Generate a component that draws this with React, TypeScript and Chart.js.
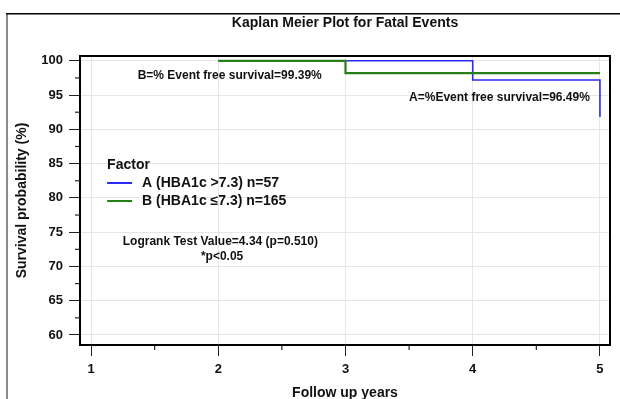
import React, { useEffect, useRef } from "react";
import { Chart, registerables } from "chart.js";

Chart.register(...registerables);

// ---- data ----
const xTickValues = [1, 2, 3, 4, 5];
const xMinorTickValues = [1.5, 2.5, 3.5, 4.5];
const yTickValues = [60, 65, 70, 75, 80, 85, 90, 95, 100];
const yMinorTickValues = [62.5, 67.5, 72.5, 77.5, 82.5, 87.5, 92.5, 97.5];

const groupBTimes = [2, 3, 5];
const groupBSurvival = [100, 98.2, 98.2];
const groupATimes = [2, 4, 5];
const groupASurvival = [100, 97.2, 91.8];

const titleText = "Kaplan Meier Plot for Fatal Events";
const xAxisTitle = "Follow up years";
const yAxisTitle = "Survival probability (%)";
const legendTitle = "Factor";
const legendLabels = ["A (HBA1c >7.3) n=57", "B (HBA1c \u22647.3) n=165"];
const annotationB = "B=% Event free survival=99.39%";
const annotationA = "A=%Event free survival=96.49%";
const logrankText = "Logrank Test Value=4.34 (p=0.510)";
const pText = "*p<0.05";

const BLUE = "#2b2bf5";
const GREEN = "#25801a";
const FONT = '"Liberation Sans", Arial, sans-serif';

const overlayPlugin = {
  id: "overlay",
  beforeDraw(chart: any) {
    const ctx = chart.ctx;
    ctx.save();
    // outer frame
    ctx.fillStyle = "#8a8a8a";
    ctx.fillRect(6, 13, 2, chart.height - 13);
    ctx.fillStyle = "#000";
    ctx.fillRect(6, 13, chart.width - 6, 1.5);
    ctx.restore();
  },
  afterDraw(chart: any) {
    const ctx = chart.ctx;
    const xs = chart.scales.x;
    const ys = chart.scales.y;
    const a = chart.chartArea;
    const px = (v: number) => xs.getPixelForValue(v);
    const py = (v: number) => ys.getPixelForValue(v);
    ctx.save();
    // plot box top/right
    ctx.strokeStyle = "#000";
    ctx.lineWidth = 2;
    ctx.strokeRect(a.left, a.top, a.right - a.left, a.bottom - a.top);
    // minor ticks
    ctx.lineWidth = 1.2;
    ctx.strokeStyle = "#222";
    yMinorTickValues.forEach((v) => {
      ctx.beginPath();
      ctx.moveTo(a.left - 5, py(v));
      ctx.lineTo(a.left, py(v));
      ctx.stroke();
    });
    xMinorTickValues.forEach((v) => {
      ctx.beginPath();
      ctx.moveTo(px(v), a.bottom);
      ctx.lineTo(px(v), a.bottom + 5);
      ctx.stroke();
    });

    ctx.fillStyle = "#111";
    ctx.textBaseline = "middle";
    // title
    ctx.font = `bold 14px ${FONT}`;
    ctx.textAlign = "center";
    ctx.fillText(titleText, (a.left + a.right) / 2, 23);
    // x title
    ctx.fillText(xAxisTitle, (a.left + a.right) / 2, 393);
    // y title
    ctx.save();
    ctx.translate(22, (a.top + a.bottom) / 2);
    ctx.rotate(-Math.PI / 2);
    ctx.fillText(yAxisTitle, 0, 0);
    ctx.restore();

    // annotations
    ctx.font = `bold 12px ${FONT}`;
    ctx.textAlign = "center";
    ctx.fillText(annotationB, px(2.09), py(97.9));
    ctx.fillText(annotationA, px(4.21), py(94.56));
    ctx.fillText(logrankText, px(2.016), py(73.57));
    ctx.fillText(pText, px(2.03), py(71.4));

    // legend
    ctx.textAlign = "left";
    ctx.font = `bold 14px ${FONT}`;
    const lx = px(1.126);
    ctx.fillText(legendTitle, lx, py(84.8));
    const rows = [
      { y: 82.17, color: BLUE, label: legendLabels[0] },
      { y: 79.55, color: GREEN, label: legendLabels[1] },
    ];
    rows.forEach((r) => {
      ctx.strokeStyle = r.color;
      ctx.lineWidth = 2;
      ctx.beginPath();
      ctx.moveTo(lx, py(r.y));
      ctx.lineTo(lx + 25, py(r.y));
      ctx.stroke();
      ctx.fillText(r.label, lx + 35, py(r.y));
    });
    ctx.restore();
  },
};

export default function App() {
  const ref = useRef<HTMLCanvasElement>(null);
  useEffect(() => {
    if (!ref.current) return;
    const chart = new Chart(ref.current, {
      type: "line",
      data: {
        datasets: [
          {
            label: "B",
            data: groupBTimes.map((t, i) => ({ x: t, y: groupBSurvival[i] })),
            borderColor: GREEN,
            borderWidth: 2.2,
            pointRadius: 0,
            stepped: "before",
            fill: false,
            order: 0,
          },
          {
            label: "A",
            data: groupATimes.map((t, i) => ({ x: t, y: groupASurvival[i] })),
            borderColor: BLUE,
            borderWidth: 1.6,
            pointRadius: 0,
            stepped: "before",
            fill: false,
            order: 1,
          },
        ],
      },
      options: {
        responsive: false,
        animation: false,
        layout: { padding: { left: 0, top: 56, right: 10, bottom: 0 } },
        plugins: {
          legend: { display: false },
          title: { display: false },
          tooltip: { enabled: false },
        },
        scales: {
          x: {
            type: "linear",
            min: 0.913,
            max: 5.079,
            afterBuildTicks: (s: any) => {
              s.ticks = xTickValues.map((v) => ({ value: v }));
            },
            afterFit: (s: any) => {
              s.height = 54;
            },
            ticks: {
              color: "#111",
              padding: 6,
              maxRotation: 0,
              font: { family: FONT, size: 13, weight: "bold" },
              callback: (v: any) => String(v),
            },
            grid: {
              color: "#e6e6e6",
              tickColor: "#222",
              tickLength: 11,
              drawTicks: true,
            },
            border: { display: true, color: "#000", width: 2 },
          },
          y: {
            type: "linear",
            min: 58.54,
            max: 100.7,
            afterBuildTicks: (s: any) => {
              s.ticks = yTickValues.map((v) => ({ value: v }));
            },
            afterFit: (s: any) => {
              s.width = 80;
            },
            ticks: {
              color: "#111",
              padding: 6,
              font: { family: FONT, size: 13, weight: "bold" },
              callback: (v: any) => String(v),
            },
            grid: {
              color: "#e6e6e6",
              tickColor: "#222",
              tickLength: 11,
              drawTicks: true,
            },
            border: { display: true, color: "#000", width: 2 },
          },
        },
      },
      plugins: [overlayPlugin],
    } as any);
    return () => chart.destroy();
  }, []);
  return (
    <div style={{ position: "absolute", left: 0, top: 0, width: 620, height: 399, background: "#fff" }}>
      <canvas ref={ref} width={620} height={399} style={{ display: "block" }} />
    </div>
  );
}
